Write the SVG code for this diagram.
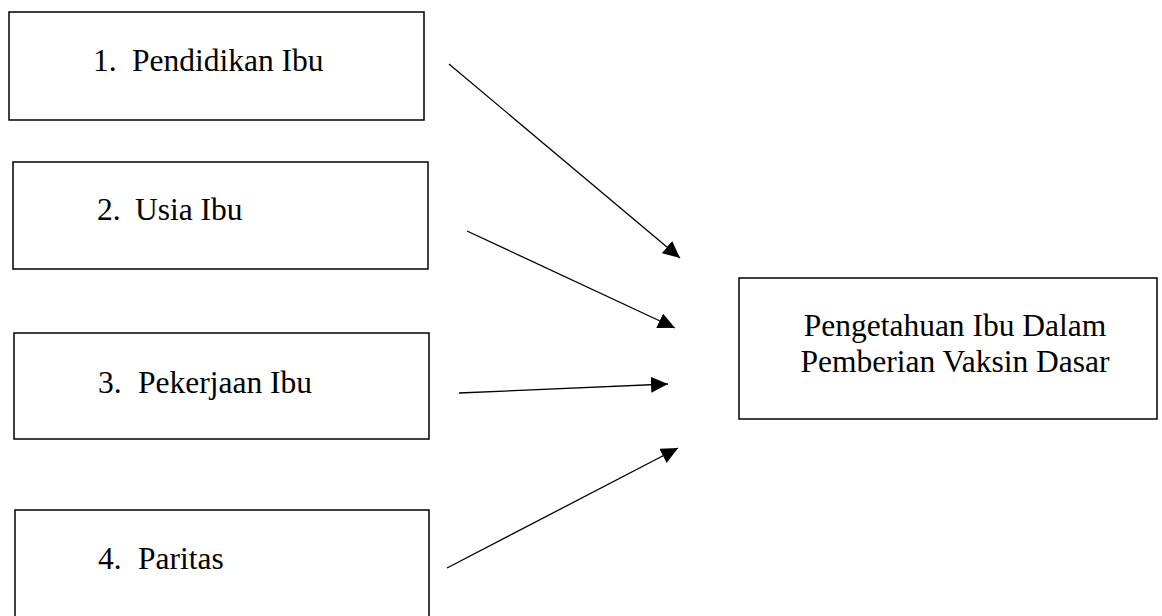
<svg xmlns="http://www.w3.org/2000/svg" width="1162" height="616" viewBox="0 0 1162 616">
<style>
.box{fill:#fff;stroke:#000;stroke-width:1.5}
.t{font-family:"Liberation Serif","Times New Roman",serif;font-size:31.5px;fill:#000}
.c{stroke:#000;stroke-width:1.3;fill:none}
</style>
<defs>
<marker id="ah" markerUnits="userSpaceOnUse" markerWidth="18" markerHeight="17" refX="17" refY="8" orient="auto">
<path d="M0,0 L17,8 L0,16 z" fill="#000"/>
</marker>
</defs>
<rect width="1162" height="616" fill="#fff"/>
<g id="n1">
<rect class="box" x="9" y="12" width="415" height="108"/>
<text class="t" y="71"><tspan x="93">1.</tspan><tspan x="132">Pendidikan Ibu</tspan></text>
</g>
<g id="n2">
<rect class="box" x="13" y="162" width="415" height="107"/>
<text class="t" y="220"><tspan x="97">2.</tspan><tspan x="135">Usia Ibu</tspan></text>
</g>
<g id="n3">
<rect class="box" x="14" y="333" width="415" height="106"/>
<text class="t" y="393"><tspan x="98">3.</tspan><tspan x="138">Pekerjaan Ibu</tspan></text>
</g>
<g id="n4">
<rect class="box" x="15" y="510" width="414" height="120"/>
<text class="t" y="569"><tspan x="98">4.</tspan><tspan x="138">Paritas</tspan></text>
</g>
<g id="n5">
<rect class="box" x="739" y="278" width="418" height="141"/>
<text class="t" text-anchor="middle" x="955" y="336">Pengetahuan Ibu Dalam</text>
<text class="t" text-anchor="middle" x="955" y="372">Pemberian Vaksin Dasar</text>
</g>
<g id="connectors">
<line class="c" x1="449" y1="64" x2="680" y2="258" marker-end="url(#ah)"/>
<line class="c" x1="467" y1="231" x2="675" y2="328" marker-end="url(#ah)"/>
<line class="c" x1="459" y1="393" x2="668" y2="384" marker-end="url(#ah)"/>
<line class="c" x1="447" y1="568" x2="678" y2="448" marker-end="url(#ah)"/>
</g>
</svg>
